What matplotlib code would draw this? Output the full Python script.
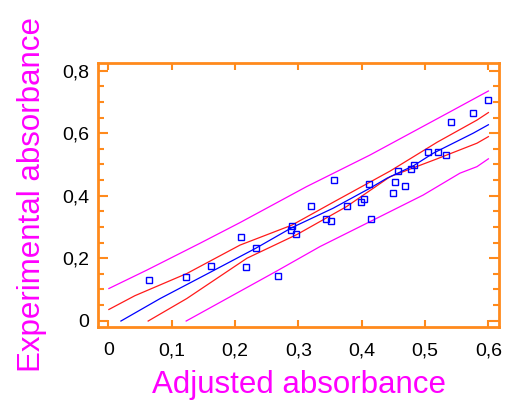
import matplotlib
matplotlib.use("Agg")
import matplotlib.pyplot as plt
from matplotlib.ticker import MultipleLocator

plt.rcParams["font.family"] = ["Liberation Sans", "DejaVu Sans"]

# observed vs adjusted absorbance
adjusted = [0.065, 0.122, 0.162, 0.210, 0.218, 0.233, 0.268, 0.290, 0.288, 0.296,
            0.320, 0.344, 0.352, 0.357, 0.377, 0.399, 0.403, 0.412, 0.414, 0.450,
            0.453, 0.458, 0.468, 0.478, 0.483, 0.505, 0.520, 0.533, 0.541, 0.575,
            0.600]
experimental = [0.130, 0.139, 0.176, 0.269, 0.172, 0.232, 0.144, 0.303, 0.289, 0.278,
                0.368, 0.326, 0.320, 0.449, 0.368, 0.381, 0.390, 0.437, 0.325, 0.410,
                0.444, 0.479, 0.431, 0.486, 0.498, 0.541, 0.541, 0.530, 0.636, 0.666,
                0.707]

# fitted line
fit_x = [0.020, 0.082, 0.161, 0.233, 0.290, 0.355, 0.413, 0.440, 0.482, 0.513, 0.576, 0.600]
fit_y = [-0.001, 0.071, 0.155, 0.232, 0.298, 0.360, 0.424, 0.456, 0.496, 0.536, 0.600, 0.627]

# confidence limits
conf_up_x = [0.001, 0.042, 0.124, 0.208, 0.290, 0.355, 0.445, 0.519, 0.582, 0.600]
conf_up_y = [0.036, 0.080, 0.151, 0.242, 0.306, 0.379, 0.479, 0.571, 0.642, 0.666]
conf_lo_x = [0.063, 0.124, 0.219, 0.298, 0.376, 0.445, 0.519, 0.582, 0.600]
conf_lo_y = [-0.001, 0.071, 0.200, 0.276, 0.365, 0.461, 0.518, 0.568, 0.589]

# prediction limits
pred_up_x = [0.001, 0.061, 0.145, 0.208, 0.313, 0.413, 0.540, 0.600]
pred_up_y = [0.103, 0.162, 0.248, 0.314, 0.429, 0.530, 0.669, 0.735]
pred_lo_x = [0.123, 0.266, 0.334, 0.424, 0.497, 0.555, 0.582, 0.600]
pred_lo_y = [-0.001, 0.159, 0.237, 0.328, 0.402, 0.472, 0.493, 0.518]

x_ticks = [0, 0.1, 0.2, 0.3, 0.4, 0.5, 0.6]
x_ticklabels = ["0", "0,1", "0,2", "0,3", "0,4", "0,5", "0,6"]
y_ticks = [0, 0.2, 0.4, 0.6, 0.8]
y_ticklabels = ["0", "0,2", "0,4", "0,6", "0,8"]

orange = "#ff8a1c"
magenta = "#ff00ff"

fig = plt.figure(figsize=(5.06, 4.01), dpi=100)
ax = fig.add_axes([0.193, 0.185, 0.794, 0.659])

ax.plot(pred_up_x, pred_up_y, color=magenta, lw=0.9)
ax.plot(pred_lo_x, pred_lo_y, color=magenta, lw=0.9)
ax.plot(conf_up_x, conf_up_y, color="#ff1a1a", lw=0.9)
ax.plot(conf_lo_x, conf_lo_y, color="#ff1a1a", lw=0.9)
ax.plot(fit_x, fit_y, color="#0000ff", lw=0.9)
ax.plot(adjusted, experimental, "s", ms=4, mfc="none", mec="#0000ff", mew=1)

ax.set_xlim(-0.0167, 0.6174)
ax.set_ylim(-0.0195, 0.826)

ax.set_xticks(x_ticks)
ax.set_xticklabels(x_ticklabels)
ax.set_yticks(y_ticks)
ax.set_yticklabels(y_ticklabels)
ax.yaxis.set_minor_locator(MultipleLocator(0.05))

ax.tick_params(axis="both", which="both", direction="in", color=orange, width=1.5,
               top=True, right=True, labelsize=14, labelcolor="black")
ax.tick_params(axis="x", which="major", length=5, pad=11)
ax.tick_params(axis="y", which="major", length=7, pad=6)
ax.tick_params(axis="y", which="minor", length=4)

for sp in ax.spines.values():
    sp.set_color(orange)
    sp.set_linewidth(2)

ax.set_xlabel("Adjusted absorbance", color=magenta, fontsize=22.5, labelpad=8)
ax.set_ylabel("Experimental absorbance", color=magenta, fontsize=22.5, labelpad=11)

fig.savefig("out.png", dpi=100)
